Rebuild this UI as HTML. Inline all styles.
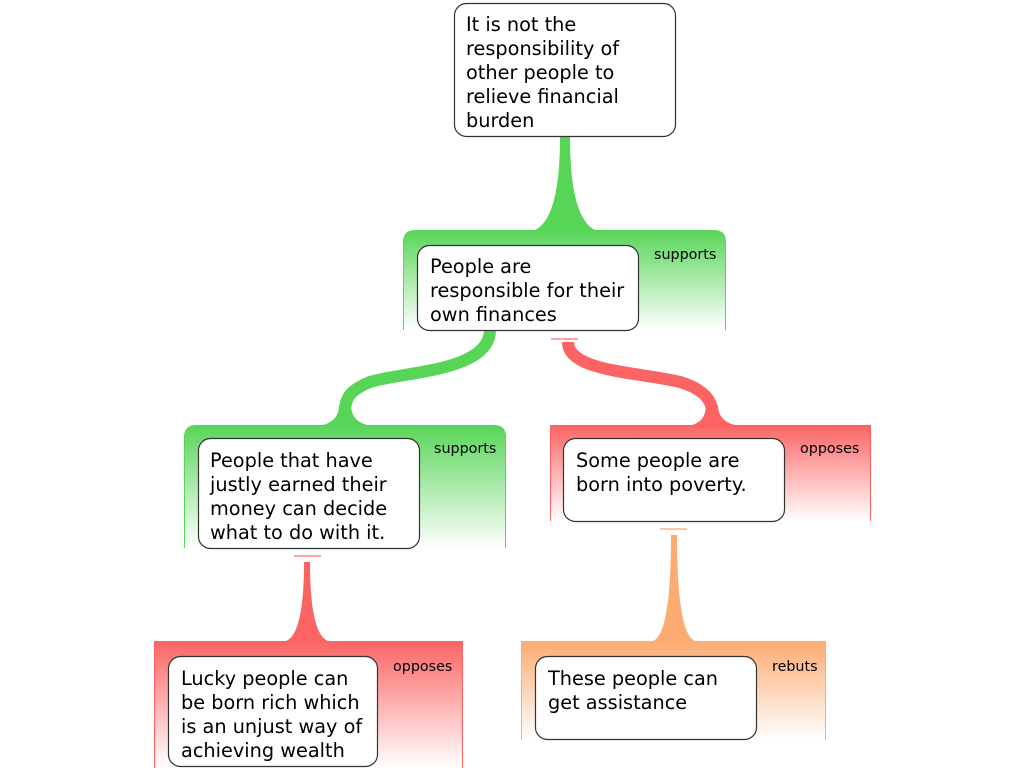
<!DOCTYPE html>
<html><head><meta charset="utf-8"><style>
body{margin:0;background:#fff;}
svg{display:block;font-family:"DejaVu Sans","Liberation Sans",sans-serif;}
.t{font-size:19.3px;fill:#000;}
.l{font-size:14.3px;fill:#000;}
.b{fill:#fff;stroke:#333;stroke-width:1.2;}
</style></head><body>
<svg width="1024" height="768" viewBox="0 0 1024 768" xmlns="http://www.w3.org/2000/svg">
<defs>
<linearGradient id="g" x1="0" y1="0" x2="0" y2="1"><stop offset="0" stop-color="#57d557"/><stop offset="1" stop-color="#57d557" stop-opacity="0"/></linearGradient>
<linearGradient id="r" x1="0" y1="0" x2="0" y2="1"><stop offset="0" stop-color="#fc6464"/><stop offset="1" stop-color="#fc6464" stop-opacity="0"/></linearGradient>
<linearGradient id="o" x1="0" y1="0" x2="0" y2="1"><stop offset="0" stop-color="#fdab72"/><stop offset="1" stop-color="#fdab72" stop-opacity="0"/></linearGradient>
</defs>
<path d="M403,330 V242 Q403,230 415,230 H714 Q726,230 726,242 V330 Z" fill="url(#g)"/>
<path d="M403.5,330 V240 M725.5,330 V240" stroke="#57d557"/>
<path d="M184,548 V437 Q184,425 196,425 H494 Q506,425 506,437 V548 Z" fill="url(#g)"/>
<path d="M184.5,548 V435 M505.5,548 V435" stroke="#57d557"/>
<rect x="550" y="425" width="321" height="96" fill="url(#r)"/>
<path d="M550.5,521 V425 M870.5,521 V425" stroke="#fc6464"/>
<rect x="154" y="641" width="309" height="127" fill="url(#r)"/>
<path d="M154.5,768 V641 M462.5,768 V641" stroke="#fc6464"/>
<rect x="521" y="641" width="305" height="99" fill="url(#o)"/>
<path d="M521.5,740 V641 M825.5,740 V641" stroke="#fdab72"/>
<path d="M560,137 H570 Q570,218 595,230 H535 Q560,218 560,137 Z" fill="#57d557"/>
<path d="M490,330 C490,372 400,372 370,382 C350,390 345,398 345,412" stroke="#57d557" stroke-width="12" fill="none"/>
<path d="M339,405 Q339,423 318,426 H372 Q351,423 351,405 Z" fill="#57d557"/>
<path d="M568,342 C568,372 640,372 680,382 C700,388 712,398 712,412" stroke="#fc6464" stroke-width="12" fill="none"/>
<path d="M706,405 Q706,423 688,426 H740 Q718,423 718,405 Z" fill="#fc6464"/>
<rect x="551" y="338" width="27" height="2" fill="#fca5a5"/>
<path d="M304,562 H310 Q310,634 328,641 H286 Q304,634 304,562 Z" fill="#fc6464"/>
<rect x="294" y="555" width="27" height="2" fill="#fca5a5"/>
<path d="M671,535 H677 Q677,634 695,641 H653 Q671,634 671,535 Z" fill="#fdab72"/>
<rect x="660" y="528" width="27" height="2" fill="#fdc8a0"/>
<rect class="b" x="454.5" y="3.5" width="221" height="133" rx="12"/>
<text class="t" x="466" y="31">It is not the</text>
<text class="t" x="466" y="55">responsibility of</text>
<text class="t" x="466" y="79">other people to</text>
<text class="t" x="466" y="103">relieve financial</text>
<text class="t" x="466" y="127">burden</text>
<rect class="b" x="417.5" y="245.5" width="221" height="85" rx="12"/>
<text class="t" x="430" y="273">People are</text>
<text class="t" x="430" y="297">responsible for their</text>
<text class="t" x="430" y="321">own finances</text>
<text class="l" x="654" y="259">supports</text>
<rect class="b" x="198.5" y="438.5" width="221" height="110" rx="12"/>
<text class="t" x="210" y="467">People that have</text>
<text class="t" x="210" y="491">justly earned their</text>
<text class="t" x="210" y="515">money can decide</text>
<text class="t" x="210" y="539">what to do with it.</text>
<text class="l" x="434" y="453">supports</text>
<rect class="b" x="563.5" y="438.5" width="221" height="83" rx="12"/>
<text class="t" x="576" y="467">Some people are</text>
<text class="t" x="576" y="491">born into poverty.</text>
<text class="l" x="800" y="453">opposes</text>
<rect class="b" x="168.5" y="656.5" width="209" height="110" rx="12"/>
<text class="t" x="181" y="685">Lucky people can</text>
<text class="t" x="181" y="709">be born rich which</text>
<text class="t" x="181" y="733">is an unjust way of</text>
<text class="t" x="181" y="757">achieving wealth</text>
<text class="l" x="393" y="671">opposes</text>
<rect class="b" x="535.5" y="656.5" width="221" height="83" rx="12"/>
<text class="t" x="548" y="685">These people can</text>
<text class="t" x="548" y="709">get assistance</text>
<text class="l" x="772" y="671">rebuts</text>
</svg>
</body></html>
